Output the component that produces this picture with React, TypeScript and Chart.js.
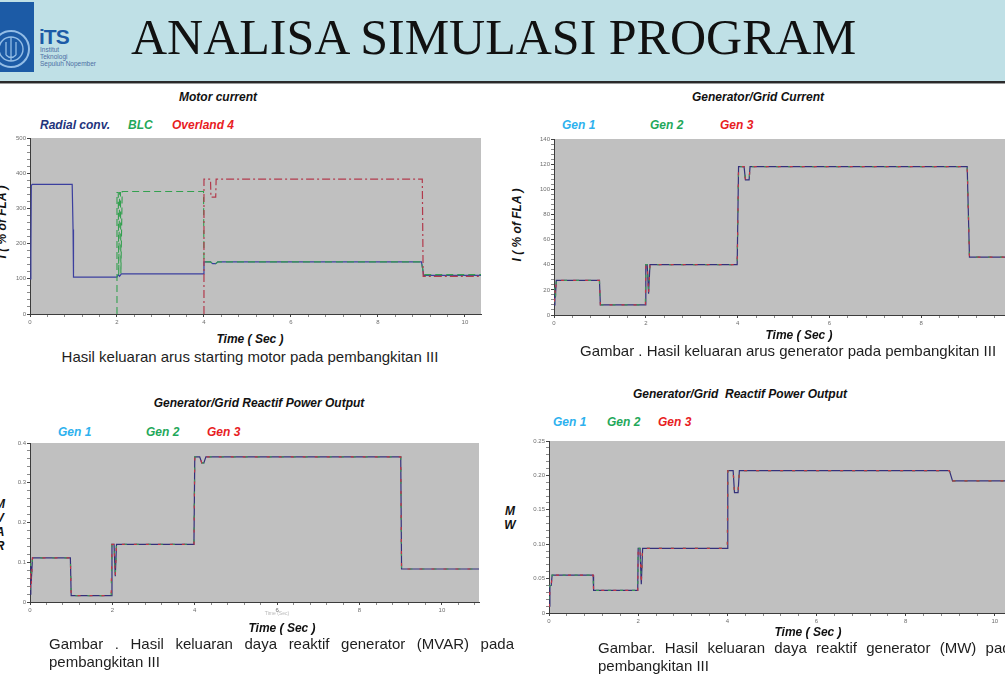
import React, { useEffect, useRef } from "react";
import { Chart, registerables } from "chart.js";

Chart.register(...registerables);

const SANS = '"Liberation Sans", Arial, sans-serif';
const SERIF = '"Liberation Serif", "Times New Roman", serif';

// ---------- Motor current (% of FLA) ----------
const radialTime = [0, 0.02, 0.03, 0.05, 0.97, 0.99, 1.0, 2.0, 2.03, 2.06, 2.1, 3.99, 4.0, 4.15, 4.2, 4.27, 4.32, 9.0, 9.03, 9.05, 10.37];
const radialCurrent = [100, 170, 365, 368, 368, 240, 105, 105, 112, 107, 114, 114, 148, 148, 143, 143, 148, 148, 128, 110, 110];

// BLC starts at standstill and kicks in at t = 2 s
const blcTime = [2.0, 2.0, 2.03, 2.04, 2.06, 2.08, 2.09, 2.12, 3.99, 4.0, 4.15, 4.2, 4.27, 4.32, 9.0, 9.05, 10.37];
const blcCurrent = [0, 345, 345, 110, 345, 345, 115, 348, 348, 148, 148, 143, 143, 148, 148, 112, 112];

// Overland 4 starts at standstill and kicks in at t = 4 s
const overlandTime = [4.0, 4.0, 4.15, 4.16, 4.27, 4.28, 9.02, 9.04, 10.37];
const overlandCurrent = [0, 383, 383, 332, 332, 383, 383, 107, 107];

const motorTicksX = [0, 2, 4, 6, 8, 10];
const motorTicksY = [0, 100, 200, 300, 400, 500];

// ---------- Generator / grid current (% of FLA) ----------
const genCurTime = [0, 0.02, 0.03, 0.05, 0.99, 1.01, 1.99, 2.0, 2.03, 2.06, 2.09, 3.99, 4.02, 4.14, 4.17, 4.25, 4.27, 9.0, 9.05, 10.39];
const genCur1 = [8, 22, 14, 27.5, 27.5, 8, 8, 40, 40, 17, 40, 40, 118, 118, 107.5, 107.5, 118, 118, 46, 46];
const genCur2 = [10, 24, 12, 27.5, 27.5, 8, 8, 40, 40, 20, 40, 40, 118, 118, 107.5, 107.5, 118, 118, 46, 46];
const genCur3 = [6, 20, 16, 27.5, 27.5, 8, 8, 40, 40, 17, 40, 40, 118, 118, 107.5, 107.5, 118, 118, 46, 46];

const genCurTicksX = [0, 2, 4, 6, 8, 10];
const genCurTicksY = [0, 20, 40, 60, 80, 100, 120, 140];

// ---------- Generator / grid reactive power (MVAR) ----------
const mvarTime = [0, 0.02, 0.03, 0.06, 0.98, 1.0, 1.97, 1.99, 2.04, 2.07, 2.1, 3.98, 4.0, 4.12, 4.17, 4.22, 4.27, 9.0, 9.02, 10.9];
const mvarGen1 = [0.02, 0.09, 0.05, 0.111, 0.111, 0.016, 0.016, 0.145, 0.145, 0.065, 0.145, 0.145, 0.365, 0.365, 0.35, 0.35, 0.365, 0.365, 0.083, 0.083];
const mvarGen2 = [0.03, 0.1, 0.06, 0.111, 0.111, 0.016, 0.016, 0.145, 0.145, 0.07, 0.145, 0.145, 0.365, 0.365, 0.35, 0.35, 0.365, 0.365, 0.083, 0.083];
const mvarGen3 = [0.02, 0.08, 0.04, 0.111, 0.111, 0.016, 0.016, 0.145, 0.145, 0.065, 0.145, 0.145, 0.365, 0.365, 0.35, 0.35, 0.365, 0.365, 0.083, 0.083];

const mvarTicksX = [0, 2, 4, 6, 8, 10];
const mvarTicksY = [0, 0.1, 0.2, 0.3, 0.4];

// ---------- Generator / grid reactive power (MW) ----------
const mwTime = [0, 0.02, 0.05, 0.07, 0.99, 1.0, 1.99, 2.0, 2.04, 2.07, 2.1, 4.0, 4.01, 4.13, 4.16, 4.24, 4.27, 8.98, 9.05, 10.9];
const mwGen1 = [0.01, 0.04, 0.04, 0.055, 0.055, 0.033, 0.033, 0.094, 0.094, 0.042, 0.094, 0.094, 0.207, 0.207, 0.175, 0.175, 0.207, 0.207, 0.192, 0.192];
const mwGen2 = [0.02, 0.04, 0.04, 0.055, 0.055, 0.033, 0.033, 0.094, 0.094, 0.046, 0.094, 0.094, 0.207, 0.207, 0.175, 0.175, 0.207, 0.207, 0.192, 0.192];
const mwGen3 = [0.0, 0.035, 0.04, 0.055, 0.055, 0.033, 0.033, 0.094, 0.094, 0.042, 0.094, 0.094, 0.207, 0.207, 0.175, 0.175, 0.207, 0.207, 0.192, 0.192];

const mwTicksX = [0, 2, 4, 6, 8, 10];
const mwTicksY = [0, 0.05, 0.1, 0.15, 0.2, 0.25];

// ---------- colours ----------
const GEN1_TEXT = "#2db1ee";
const GEN2_TEXT = "#1fa85a";
const GEN3_TEXT = "#e8201f";
const GEN1_LINE = "#34307a";
const GEN2_LINE = "#3a9a55";
const GEN3_LINE = "#c23445";

type Line = {
  label: string;
  t: number[];
  v: number[];
  color: string;
  dash: number[];
  dashOffset?: number;
  width?: number;
  order: number;
};

type Box = { left: number; top: number; right: number; bottom: number };

type PlotProps = {
  box: Box;
  xMax: number;
  xMajor: number[];
  xMinorStep: number;
  yMax: number;
  yMajor: number[];
  yMinorStep: number;
  yDecimals: number;
  lines: Line[];
};

// space reserved around the plot area inside each canvas
const YW = 26;
const PT = 8;
const PR = 6;
const XH = 14;

function tickValues(step: number, max: number): number[] {
  const out: number[] = [];
  const n = Math.floor(max / step + 1e-6);
  for (let k = 0; k <= n; k++) out.push(+(k * step).toFixed(6));
  return out;
}

function majorOf(v: number, majors: number[], step: number): number | undefined {
  return majors.find((m) => Math.abs(m - v) < step * 1e-3);
}

const plotFill = {
  id: "plotFill",
  beforeDraw(chart: any) {
    const { ctx, chartArea: a } = chart;
    ctx.save();
    ctx.fillStyle = "#c0c0c0";
    ctx.fillRect(a.left, a.top, a.right - a.left, a.bottom - a.top);
    ctx.restore();
  },
};

function Plot(p: PlotProps) {
  const ref = useRef<HTMLCanvasElement>(null);
  const w = p.box.right - p.box.left + YW + PR;
  const h = p.box.bottom - p.box.top + PT + XH;

  useEffect(() => {
    const xTicks = tickValues(p.xMinorStep, p.xMax);
    const yTicks = tickValues(p.yMinorStep, p.yMax);
    const tickFont = { family: SANS, size: 6 };

    const chart = new Chart(ref.current as HTMLCanvasElement, {
      type: "line",
      data: {
        datasets: p.lines.map((l) => ({
          label: l.label,
          data: l.t.map((t, i) => ({ x: t, y: l.v[i] })),
          borderColor: l.color,
          borderWidth: l.width ?? 1.2,
          borderDash: l.dash,
          borderDashOffset: l.dashOffset ?? 0,
          pointRadius: 0,
          tension: 0,
          fill: false,
          order: l.order,
        })),
      },
      options: {
        animation: false,
        responsive: false,
        events: [],
        layout: { padding: { top: PT, right: PR, left: 0, bottom: 0 } },
        plugins: {
          legend: { display: false },
          title: { display: false },
          tooltip: { enabled: false },
        },
        scales: {
          x: {
            type: "linear",
            min: 0,
            max: p.xMax,
            bounds: "data",
            afterBuildTicks: (s: any) => {
              s.ticks = xTicks.map((v) => ({ value: v }));
            },
            afterFit: (s: any) => {
              s.height = XH;
            },
            border: { color: "#3c3c3c", width: 1, z: 1 },
            grid: {
              drawOnChartArea: false,
              drawTicks: true,
              tickLength: 3,
              tickWidth: 1,
              tickColor: (c: any) =>
                majorOf(c.tick?.value ?? -1, p.xMajor, p.xMinorStep) !== undefined ? "#444" : "#8a8a8a",
            },
            ticks: {
              autoSkip: false,
              maxRotation: 0,
              padding: 2,
              color: "#6e6e6e",
              font: tickFont,
              callback: (v: any) => {
                const m = majorOf(Number(v), p.xMajor, p.xMinorStep);
                return m === undefined ? "" : String(m);
              },
            },
          },
          y: {
            type: "linear",
            min: 0,
            max: p.yMax,
            bounds: "data",
            afterBuildTicks: (s: any) => {
              s.ticks = yTicks.map((v) => ({ value: v }));
            },
            afterFit: (s: any) => {
              s.width = YW;
            },
            border: { color: "#3c3c3c", width: 1 },
            grid: {
              drawOnChartArea: false,
              drawTicks: true,
              tickLength: 3,
              tickWidth: 1,
              tickColor: (c: any) =>
                majorOf(c.tick?.value ?? -1, p.yMajor, p.yMinorStep) !== undefined ? "#444" : "#8a8a8a",
            },
            ticks: {
              autoSkip: false,
              padding: 1,
              color: "#6e6e6e",
              font: tickFont,
              callback: (v: any) => {
                const m = majorOf(Number(v), p.yMajor, p.yMinorStep);
                if (m === undefined) return "";
                return m === 0 ? "0" : m.toFixed(p.yDecimals);
              },
            },
          },
        },
      },
      plugins: [plotFill],
    } as any);
    return () => chart.destroy();
  }, []);

  return (
    <canvas
      ref={ref}
      width={w}
      height={h}
      style={{ position: "absolute", left: p.box.left - YW, top: p.box.top - PT }}
    />
  );
}

type TxtProps = {
  x: number;
  y: number; // baseline
  size: number;
  children: React.ReactNode;
  align?: "left" | "center";
  bold?: boolean;
  italic?: boolean;
  color?: string;
  serif?: boolean;
};

function Txt({ x, y, size, children, align = "left", bold, italic, color = "#111", serif }: TxtProps) {
  const asc = serif ? 0.8375 : 0.8465;
  return (
    <div
      style={{
        position: "absolute",
        left: x,
        top: y - asc * size,
        fontFamily: serif ? SERIF : SANS,
        fontSize: size,
        lineHeight: 1,
        fontWeight: bold ? 700 : 400,
        fontStyle: italic ? "italic" : "normal",
        color,
        whiteSpace: "nowrap",
        transform: align === "center" ? "translateX(-50%)" : undefined,
      }}
    >
      {children}
    </div>
  );
}

function RotLabel({ x, y, text }: { x: number; y: number; text: string }) {
  return (
    <div
      style={{
        position: "absolute",
        left: x,
        top: y,
        fontFamily: SANS,
        fontSize: 12,
        lineHeight: 1,
        fontWeight: 700,
        fontStyle: "italic",
        color: "#111",
        whiteSpace: "nowrap",
        transform: "translate(-50%, -50%) rotate(-90deg)",
      }}
    >
      {text}
    </div>
  );
}

function Caption({ x, y, width, text }: { x: number; y: number; width: number; text: string }) {
  return (
    <div
      style={{
        position: "absolute",
        left: x,
        top: y - 14.2,
        width,
        fontFamily: SANS,
        fontSize: 15,
        lineHeight: "18px",
        color: "#1e1e1e",
        textAlign: "justify",
      }}
    >
      {text}
    </div>
  );
}

function genLines(t: number[], a: number[], b: number[], c: number[]): Line[] {
  return [
    { label: "Gen 1", t, v: a, color: GEN1_LINE, dash: [], order: 3 },
    { label: "Gen 2", t, v: b, color: GEN2_LINE, dash: [3, 9], order: 2 },
    { label: "Gen 3", t, v: c, color: GEN3_LINE, dash: [3, 9], dashOffset: 6, order: 1 },
  ];
}

function Header() {
  return (
    <>
      <div style={{ position: "absolute", left: 0, top: 0, width: 1005, height: 81, background: "#bfe0e6" }} />
      <div style={{ position: "absolute", left: 0, top: 81, width: 1005, height: 2, background: "#2a2a2a" }} />
      <div style={{ position: "absolute", left: 0, top: 83, width: 1005, height: 1, background: "#9a9a9a" }} />
      <svg width={112} height={76} style={{ position: "absolute", left: 0, top: 0 }}>
        <rect x={0} y={2} width={34} height={70} fill="#1c5ba6" />
        <circle cx={11} cy={49} r={18} fill="none" stroke="#93bde6" strokeWidth={2} />
        <circle cx={11} cy={49} r={12} fill="none" stroke="#93bde6" strokeWidth={1.4} />
        <path d="M11 37 L11 61 M6 42 L6 55 M16 42 L16 55 M6 55 Q11 60 16 55" stroke="#93bde6" strokeWidth={1.3} fill="none" />
        <text x={39} y={44} fontFamily={SANS} fontSize={21} fontWeight={700} fill="#1c5ba6" letterSpacing={-1}>
          iTS
        </text>
        <text x={40} y={52} fontFamily={SANS} fontSize={6.5} fill="#4d6fa3">Institut</text>
        <text x={40} y={59} fontFamily={SANS} fontSize={6.5} fill="#4d6fa3">Teknologi</text>
        <text x={40} y={66} fontFamily={SANS} fontSize={6.5} fill="#4d6fa3">Sepuluh Nopember</text>
      </svg>
      <Txt x={131} y={54} size={50} serif color="#111">
        ANALISA SIMULASI PROGRAM
      </Txt>
    </>
  );
}

export default function App() {
  const motorLines: Line[] = [
    { label: "Radial conv.", t: radialTime, v: radialCurrent, color: "#3b3f9e", dash: [], order: 3 },
    { label: "BLC", t: blcTime, v: blcCurrent, color: "#33a04f", dash: [7, 4], width: 1.1, order: 2 },
    { label: "Overland 4", t: overlandTime, v: overlandCurrent, color: "#b23a4c", dash: [8, 3, 2, 3], order: 1 },
  ];

  return (
    <div
      style={{
        position: "fixed",
        left: 0,
        top: 0,
        width: 1005,
        height: 691,
        overflow: "hidden",
        background: "#ffffff",
      }}
    >
      <Header />

      {/* Motor current */}
      <Txt x={218} y={101} size={12} bold italic align="center">Motor current</Txt>
      <Txt x={40} y={129} size={12} bold italic color="#23337c">Radial conv.</Txt>
      <Txt x={128} y={129} size={12} bold italic color={GEN2_TEXT}>BLC</Txt>
      <Txt x={172} y={129} size={12} bold italic color={GEN3_TEXT}>Overland 4</Txt>
      <RotLabel x={2} y={222} text="I ( % of FLA )" />
      <Plot
        box={{ left: 30, top: 138, right: 481, bottom: 314 }}
        xMax={10.37}
        xMajor={motorTicksX}
        xMinorStep={0.4}
        yMax={500}
        yMajor={motorTicksY}
        yMinorStep={20}
        yDecimals={0}
        lines={motorLines}
      />
      <Txt x={250} y={343} size={12} bold italic align="center">Time ( Sec )</Txt>
      <Txt x={250} y={362} size={15} align="center" color="#1e1e1e">
        Hasil keluaran arus starting motor pada pembangkitan III
      </Txt>

      {/* Generator / grid current */}
      <Txt x={758} y={101} size={12} bold italic align="center">Generator/Grid Current</Txt>
      <Txt x={562} y={129} size={12} bold italic color={GEN1_TEXT}>Gen 1</Txt>
      <Txt x={650} y={129} size={12} bold italic color={GEN2_TEXT}>Gen 2</Txt>
      <Txt x={720} y={129} size={12} bold italic color={GEN3_TEXT}>Gen 3</Txt>
      <RotLabel x={517} y={225} text="I ( % of  FLA )" />
      <Plot
        box={{ left: 554, top: 139, right: 1031, bottom: 315 }}
        xMax={10.39}
        xMajor={genCurTicksX}
        xMinorStep={0.4}
        yMax={140}
        yMajor={genCurTicksY}
        yMinorStep={4}
        yDecimals={0}
        lines={genLines(genCurTime, genCur1, genCur2, genCur3)}
      />
      <Txt x={799} y={339} size={12} bold italic align="center">Time ( Sec )</Txt>
      <Txt x={580} y={356} size={15} color="#1e1e1e">
        Gambar . Hasil keluaran arus generator pada pembangkitan III
      </Txt>

      {/* Reactive power, MVAR */}
      <Txt x={259} y={407} size={12} bold italic align="center">Generator/Grid Reactif Power Output</Txt>
      <Txt x={58} y={436} size={12} bold italic color={GEN1_TEXT}>Gen 1</Txt>
      <Txt x={146} y={436} size={12} bold italic color={GEN2_TEXT}>Gen 2</Txt>
      <Txt x={207} y={436} size={12} bold italic color={GEN3_TEXT}>Gen 3</Txt>
      <Txt x={0} y={508} size={12} bold italic align="center">M</Txt>
      <Txt x={0} y={522} size={12} bold italic align="center">V</Txt>
      <Txt x={0} y={536} size={12} bold italic align="center">A</Txt>
      <Txt x={0} y={550} size={12} bold italic align="center">R</Txt>
      <Plot
        box={{ left: 30, top: 443, right: 479, bottom: 602 }}
        xMax={10.9}
        xMajor={mvarTicksX}
        xMinorStep={0.4}
        yMax={0.4}
        yMajor={mvarTicksY}
        yMinorStep={0.02}
        yDecimals={1}
        lines={genLines(mvarTime, mvarGen1, mvarGen2, mvarGen3)}
      />
      <Txt x={277} y={615} size={5} align="center" color="#b8b8b8">Time (Sec)</Txt>
      <Txt x={282} y={632} size={12} bold italic align="center">Time ( Sec )</Txt>
      <Caption x={49} y={649} width={465} text="Gambar . Hasil keluaran daya reaktif generator (MVAR) pada pembangkitan III" />

      {/* Reactive power, MW */}
      <Txt x={740} y={398} size={12} bold italic align="center">{"Generator/Grid\u00a0 Reactif Power Output"}</Txt>
      <Txt x={553} y={426} size={12} bold italic color={GEN1_TEXT}>Gen 1</Txt>
      <Txt x={607} y={426} size={12} bold italic color={GEN2_TEXT}>Gen 2</Txt>
      <Txt x={658} y={426} size={12} bold italic color={GEN3_TEXT}>Gen 3</Txt>
      <Txt x={510} y={515} size={12} bold italic align="center">M</Txt>
      <Txt x={510} y={529} size={12} bold italic align="center">W</Txt>
      <Plot
        box={{ left: 549, top: 441, right: 1035, bottom: 613 }}
        xMax={10.9}
        xMajor={mwTicksX}
        xMinorStep={0.4}
        yMax={0.25}
        yMajor={mwTicksY}
        yMinorStep={0.01}
        yDecimals={2}
        lines={genLines(mwTime, mwGen1, mwGen2, mwGen3)}
      />
      <Txt x={808} y={636} size={12} bold italic align="center">Time ( Sec )</Txt>
      <Caption x={598} y={653} width={421} text="Gambar. Hasil keluaran daya reaktif generator (MW) pada pembangkitan III" />
    </div>
  );
}
